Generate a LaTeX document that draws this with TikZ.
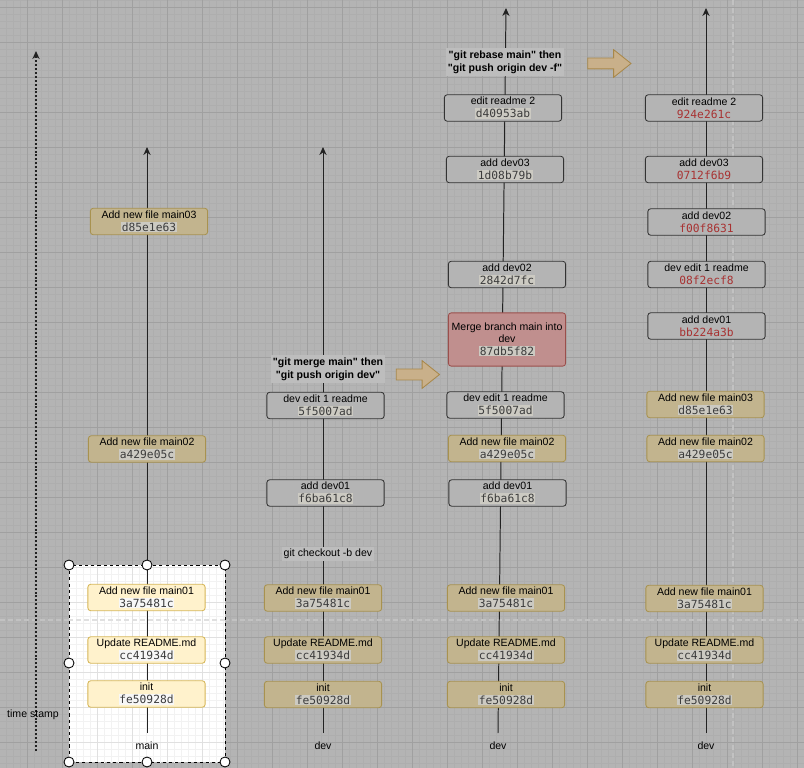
\documentclass[tikz,border=0pt]{standalone}
\usepackage{fontspec}
\setmainfont{Liberation Sans}
\newfontfamily\hashfont{DejaVu Sans Mono}
\usetikzlibrary{arrows.meta,shapes.arrows}
\definecolor{CanvasGrey}{HTML}{B4B4B4}
\definecolor{GridMinor}{HTML}{AEAEAE}
\definecolor{GridMajor}{HTML}{A0A0A0}
\definecolor{BreakLine}{HTML}{C2C2C2}
\definecolor{SelMinor}{HTML}{F2F2F2}
\definecolor{SelMajor}{HTML}{E0E0E0}
\definecolor{TanFill}{HTML}{C2B48E}
\definecolor{TanLine}{HTML}{A8924F}
\definecolor{SelFill}{HTML}{FFF2CC}
\definecolor{SelLine}{HTML}{D6B656}
\definecolor{DevLine}{HTML}{333333}
\definecolor{MergeFill}{HTML}{C08F8E}
\definecolor{MergeLine}{HTML}{9B4F4C}
\definecolor{ShiftFill}{HTML}{C9B08A}
\definecolor{ShiftLine}{HTML}{A8884A}
\definecolor{HashBg}{HTML}{CCCAC2}
\definecolor{HashInk}{HTML}{3C3C3C}
\definecolor{HashRed}{HTML}{A83232}
\definecolor{NoteBg}{HTML}{BDBDBD}
\definecolor{Trunk}{HTML}{222222}
\newcommand{\hsh}[1]{{\setlength{\fboxsep}{0.6pt}\colorbox{HashBg}{\hashfont\fontsize{8}{9}\selectfont\color{HashInk}#1}}}
\newcommand{\hshw}[1]{{\setlength{\fboxsep}{0.6pt}\colorbox{white!97!black}{\hashfont\fontsize{8}{9}\selectfont\color{HashInk}#1}}}
\newcommand{\hshr}[1]{{\hashfont\fontsize{8}{9}\selectfont\color{HashRed}#1}}

\begin{document}
\begin{tikzpicture}[x=0.025cm, y=-0.025cm, font=\fontsize{7.5}{9}\selectfont,
   commit/.style={draw=TanLine, fill=TanFill, rounded corners=0.07cm, line width=0.6pt,
                  minimum width=2.93cm, minimum height=0.66cm, inner sep=0.5pt, align=center},
   selcommit/.style={commit, draw=SelLine, fill=SelFill},
   devcommit/.style={commit, draw=DevLine, fill=CanvasGrey},
   mergecommit/.style={commit, draw=MergeLine, fill=MergeFill, minimum height=1.33cm},
   trunk/.style={draw=Trunk, line width=0.7pt, -{Stealth[length=2mm,width=1.8mm]}},
   note/.style={fill=NoteBg, inner sep=1.5pt, align=center},
   bignote/.style={note, font=\fontsize{7.5}{9.5}\selectfont\bfseries},
   shiftarrow/.style={single arrow, draw=ShiftLine, fill=ShiftFill, line width=0.6pt,
                 minimum height=1.08cm, inner sep=0.125cm, single arrow head extend=0.21cm,
                 single arrow tip angle=77},
   handle/.style={circle, draw, fill=white, minimum size=0.25cm, inner sep=0pt, line width=0.6pt},
   pagebreak/.style={dash pattern=on 3.5pt off 2.2pt, line width=1pt}]
  \useasboundingbox (0,0) rectangle (804,768);
  % canvas and grid
  \fill[CanvasGrey] (0,0) rectangle (804,768);
  \foreach \x in {6,13,...,804} \draw[GridMinor, line width=0.3pt] (\x,0) -- (\x,768);
  \foreach \y in {0,7,...,768} \draw[GridMinor, line width=0.3pt] (0,\y) -- (804,\y);
  \foreach \x in {27,62,...,804} \draw[GridMajor, line width=0.5pt] (\x,0) -- (\x,768);
  \foreach \y in {7,42,...,768} \draw[GridMajor, line width=0.5pt] (0,\y) -- (804,\y);
  \draw[pagebreak, BreakLine] (0,620) -- (804,620);
  \draw[pagebreak, BreakLine] (733,0) -- (733,768);
  % selected area
  \begin{scope}
    \clip (69,565) rectangle (225,762);
    \fill[white] (69,565) rectangle (225,762);
    \foreach \x in {6,13,...,230} \draw[SelMinor, line width=0.3pt] (\x,560) -- (\x,768);
    \foreach \y in {560,567,...,768} \draw[SelMinor, line width=0.3pt] (60,\y) -- (230,\y);
    \foreach \x in {27,62,...,230} \draw[SelMajor, line width=0.5pt] (\x,560) -- (\x,768);
    \foreach \y in {567,602,...,768} \draw[SelMajor, line width=0.5pt] (60,\y) -- (230,\y);
    \draw[pagebreak, SelMajor] (60,620) -- (230,620);
  \end{scope}

  % time stamp
  \coordinate (tbot) at (36,751);
  \coordinate (ttop) at (36,51);
  \draw[Trunk, line width=1.3pt, dash pattern=on 1.4pt off 1.4pt, -{Stealth[length=2mm,width=1.8mm]}] (tbot) -- (ttop);
  \node (ts) at (33,715) {time stamp};

  % branch trunks
  \coordinate (mbot) at (147,733);  \coordinate (mtop) at (147,147);
  \coordinate (cbot) at (323,733);  \coordinate (ctop) at (323,147);
  \coordinate (gbot) at (498,733);  \coordinate (gtop) at (506,8);
  \coordinate (bbot) at (706,733);  \coordinate (btop) at (706,8);
  \draw[trunk] (mbot) -- (mtop);
  \draw[trunk] (cbot) -- (ctop);
  \draw[trunk] (gbot) -- (gtop);
  \draw[trunk] (bbot) -- (btop);

  % main
  \node[selcommit] (mi) at (146.5,694) {init\\\hshw{fe50928d}};
  \node[selcommit] (mr) at (146.5,650) {Update README.md\\\hshw{cc41934d}};
  \node[selcommit] (m1) at (146.5,597.5) {Add new file main01\\\hshw{3a75481c}};
  \node[commit] (m2) at (147,449) {Add new file main02\\\hsh{a429e05c}};
  \node[commit] (m3) at (149,221.5) {Add new file main03\\\hsh{d85e1e63}};
  \node (mlab) at (147,746) {main};

  % dev after checkout
  \node[commit] (ci) at (323,694.5) {init\\\hsh{fe50928d}};
  \node[commit] (cr) at (323,650) {Update README.md\\\hsh{cc41934d}};
  \node[commit] (c1) at (323,598) {Add new file main01\\\hsh{3a75481c}};
  \node[note] (chk) at (328,554) {git checkout -b dev};
  \node[devcommit] (cd1) at (325.5,493) {add dev01\\\hsh{f6ba61c8}};
  \node[devcommit] (ce) at (325.5,405.5) {dev edit 1 readme\\\hsh{5f5007ad}};
  \node[bignote] (mrg) at (328,369) {\textquotedbl git merge main\textquotedbl{} then\\\textquotedbl git push origin dev\textquotedbl};
  \node[shiftarrow] (ar1) at (414.5,374.5) {};
  \node (clab) at (323,746) {dev};

  % dev after merge
  \node[commit] (gi) at (506,694.5) {init\\\hsh{fe50928d}};
  \node[commit] (gr) at (506,650) {Update README.md\\\hsh{cc41934d}};
  \node[commit] (g1) at (506,598) {Add new file main01\\\hsh{3a75481c}};
  \node[devcommit] (gd1) at (507.5,493) {add dev01\\\hsh{f6ba61c8}};
  \node[commit] (g2) at (507,448.5) {Add new file main02\\\hsh{a429e05c}};
  \node[devcommit] (ge) at (505.5,405) {dev edit 1 readme\\\hsh{5f5007ad}};
  \node[mergecommit] (gm) at (507,339.5) {Merge branch main into\\dev\\\hsh{87db5f82}};
  \node[devcommit] (gd2) at (507,274.5) {add dev02\\\hsh{2842d7fc}};
  \node[devcommit] (gd3) at (505,169.5) {add dev03\\\hsh{1d08b79b}};
  \node[devcommit] (gx) at (503,108) {edit readme 2\\\hsh{d40953ab}};
  \node[bignote] (rbs) at (505,62) {\textquotedbl git rebase main\textquotedbl{} then\\\textquotedbl git push origin dev -f\textquotedbl};
  \node[shiftarrow] (ar2) at (606,63.5) {};
  \node (glab) at (498,746) {dev};

  % dev after rebase
  \node[commit] (bi) at (704.5,694.5) {init\\\hsh{fe50928d}};
  \node[commit] (br) at (704.5,650) {Update README.md\\\hsh{cc41934d}};
  \node[commit] (b1) at (704.5,598.5) {Add new file main01\\\hsh{3a75481c}};
  \node[commit] (b2) at (705.5,448.5) {Add new file main02\\\hsh{a429e05c}};
  \node[commit] (b3) at (705.5,404.5) {Add new file main03\\\hsh{d85e1e63}};
  \node[devcommit] (bd1) at (706.5,326) {add dev01\\\hshr{bb224a3b}};
  \node[devcommit] (be) at (706.5,274.5) {dev edit 1 readme\\\hshr{08f2ecf8}};
  \node[devcommit] (bd2) at (706.5,222) {add dev02\\\hshr{f00f8631}};
  \node[devcommit] (bd3) at (704,169.5) {add dev03\\\hshr{0712f6b9}};
  \node[devcommit] (bx) at (704,108) {edit readme 2\\\hshr{924e261c}};
  \node (blab) at (706,746) {dev};

  % selection frame
  \draw[dash pattern=on 2.2pt off 2.2pt, line width=0.7pt] (69,565) rectangle (225,762);
  \foreach \p [count=\i] in {(69,565),(147,565),(225,565),(69,663),(225,663),(69,762),(147,762),(225,762)}
    \node[handle] (h\i) at \p {};
\end{tikzpicture}
\end{document}
